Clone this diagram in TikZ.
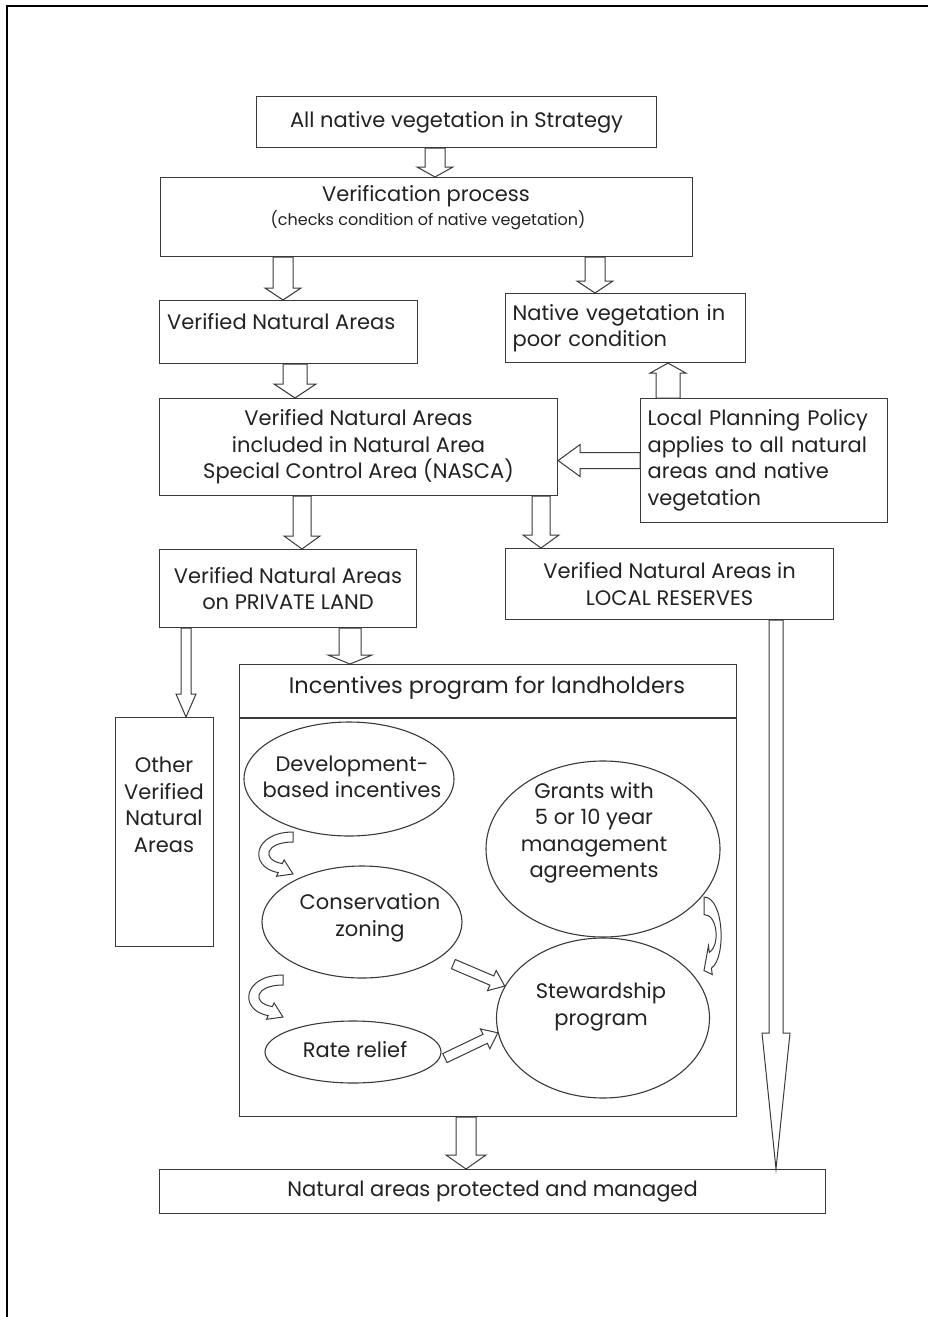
\documentclass[tikz,border=0pt]{standalone}
\usepackage{fontspec}
\setmainfont{Poppins}
\usetikzlibrary{calc,shapes.geometric}
\definecolor{ln}{HTML}{3A3A3A}
\definecolor{tx}{HTML}{222222}
\newcommand\mainfs{\fontsize{21}{26.5}\selectfont}
\newcommand\subfs{\fontsize{16}{20}\selectfont}
\newcommand\headfs{\fontsize{22.5}{27}\selectfont}
\tikzset{
  box/.style={draw=ln, line width=1.1pt, rectangle, inner sep=0pt, anchor=north west, text=tx, font=\mainfs, align=center},
  oval/.style={draw=ln, line width=1.1pt, ellipse, inner sep=0pt},
  txt/.style={text=tx, font=\mainfs, inner sep=0pt, align=center},
  arr/.style={draw=ln, line width=1pt, fill=white, line join=miter},
  curvarr/.pic={\draw[arr] (0,0) -- (0,10) .. controls (-28,10) and (-32,28) .. (-10.6,31.6)
     -- (-8.9,27.9) -- (0,42) -- (-16.5,44.3) -- (-14.8,40.6)
     .. controls (-45,35) and (-40,0) .. (0,0) -- cycle;}
}
% block arrow: start, end, half shaft, half head, head length
\newcommand\barrow[5]{%
  \draw[arr] let \p1=#1, \p2=#2, \n1={atan2(\y2-\y1,\x2-\x1)}, \n2={veclen(\x2-\x1,\y2-\y1)} in
   ($(\p1)+(\n1+90:#3pt)$)
   -- ($(\p1)+(\n1:{\n2*1pt-#5pt})+(\n1+90:#3pt)$)
   -- ($(\p1)+(\n1:{\n2*1pt-#5pt})+(\n1+90:#4pt)$)
   -- (\p2)
   -- ($(\p1)+(\n1:{\n2*1pt-#5pt})+(\n1-90:#4pt)$)
   -- ($(\p1)+(\n1:{\n2*1pt-#5pt})+(\n1-90:#3pt)$)
   -- ($(\p1)+(\n1-90:#3pt)$) -- cycle;}
\begin{document}
\begin{tikzpicture}[x=1pt,y=-1pt]
\useasboundingbox (0,0) rectangle (928,1317);
\fill[white] (0,0) rectangle (928,1317);
% outer frame (left and top)
\draw[line width=2.6pt, black] (7,1317) -- (7,6) -- (928,6);

% boxes
\node[box, minimum width=400pt, minimum height=51pt] (b1) at (256,96) {All native vegetation in Strategy};
\node[box, minimum width=532pt, minimum height=79pt] (b2) at (160,177) {};
\node[txt] (b2a) at (426,196) {Verification process};
\node[txt, font=\subfs] (b2b) at (428,220) {(checks condition of native vegetation)};
\node[box, minimum width=258pt, minimum height=63pt] (b3) at (159,300) {};
\node[txt, anchor=west] (b3t) at (167,322) {Verified Natural Areas};
\node[box, minimum width=240pt, minimum height=69pt, text width=226pt, align=left] (b4) at (505,293) {Native vegetation in\\poor condition};
\node[box, minimum width=398pt, minimum height=97pt] (b5) at (159,398) {Verified Natural Areas\\included in Natural Area\\Special Control Area (NASCA)};
\node[box, minimum width=247pt, minimum height=124pt, text width=233pt, align=left] (b6) at (640,398) {Local Planning Policy\\applies to all natural\\areas and native\\vegetation};
\node[box, minimum width=257pt, minimum height=78pt] (b7) at (159,549) {Verified Natural Areas\\on PRIVATE LAND};
\node[box, minimum width=328pt, minimum height=71pt] (b8) at (505,548) {Verified Natural Areas in\\LOCAL RESERVES};
\node[box, minimum width=98pt, minimum height=229pt] (b9) at (115,717) {};
\node[txt] (b9t) at (164,805) {Other\\Verified\\Natural\\Areas};
\node[box, minimum width=497pt, minimum height=452pt] (b10) at (239,664) {};
\draw[draw=ln, line width=1.1pt] ([yshift=-54pt]b10.north west) -- ([yshift=-54pt]b10.north east);
\node[txt, font=\headfs] (b10t) at (487,688) {Incentives program for landholders};
\node[box, minimum width=666pt, minimum height=44pt] (b11) at (159,1169) {Natural areas protected and managed};

% ellipses
\node[oval, minimum width=210pt, minimum height=114pt] (e1) at (349,779) {};
\node[txt] (e1t) at (352,777) {Development-\\based incentives};
\node[oval, minimum width=234pt, minimum height=176pt] (e2) at (603,849) {};
\node[txt] (e2t) at (594,833) {Grants with\\5 or 10 year\\management\\agreements};
\node[oval, minimum width=200pt, minimum height=112pt] (e3) at (362,922) {};
\node[txt] (e3t) at (370,918) {Conservation\\zoning};
\node[oval, minimum width=213pt, minimum height=160pt] (e4) at (603,1018) {};
\node[txt] (e4t) at (601,1007) {Stewardship\\program};
\node[oval, minimum width=176pt, minimum height=62pt] (e5) at (353,1052) {};
\node[txt] (e5t) at (355,1050) {Rate relief};

% block arrows
\barrow{(435,0 |- b1.south)}{(435,0 |- b2.north)}{10}{18}{10}
\barrow{(283,0 |- b2.south)}{(283,0 |- b3.north)}{10}{18}{12}
\barrow{(595,0 |- b2.south)}{(595,0 |- b4.north)}{10}{18}{12}
\barrow{(295,0 |- b3.south)}{(295,0 |- b5.north)}{12}{21}{14}
\barrow{(668,0 |- b6.north)}{(668,0 |- b4.south)}{12}{18}{10}
\barrow{(b6.west)}{(b5.east |- b6.west)}{8}{16}{22}
\barrow{(302,0 |- b5.south)}{(302,0 |- b7.north)}{9}{18}{13}
\barrow{(541,0 |- b5.south)}{(541,0 |- b8.north)}{9}{18}{13}
\barrow{(186,0 |- b7.south)}{(186,0 |- b9.north)}{5}{10}{23}
\barrow{(350,0 |- b7.south)}{(350,0 |- b10.north)}{11}{22}{9}
\barrow{(776,0 |- b8.south)}{(776,0 |- b11.north)}{7}{14}{136}
\barrow{(466,0 |- b10.south)}{(466,0 |- b11.north)}{10}{20}{14}
\barrow{([xshift=14pt,yshift=-6pt]e3.335)}{(e4.162)}{5}{11}{14}
\barrow{([xshift=5pt]e5.356)}{(e4.188)}{5}{11}{14}

% curved arrows
\pic at (293,832) {curvarr};
\pic at (283,975) {curvarr};
\pic[xscale=-0.5, yscale=1.75] at (704,897) {curvarr};
\end{tikzpicture}
\end{document}
